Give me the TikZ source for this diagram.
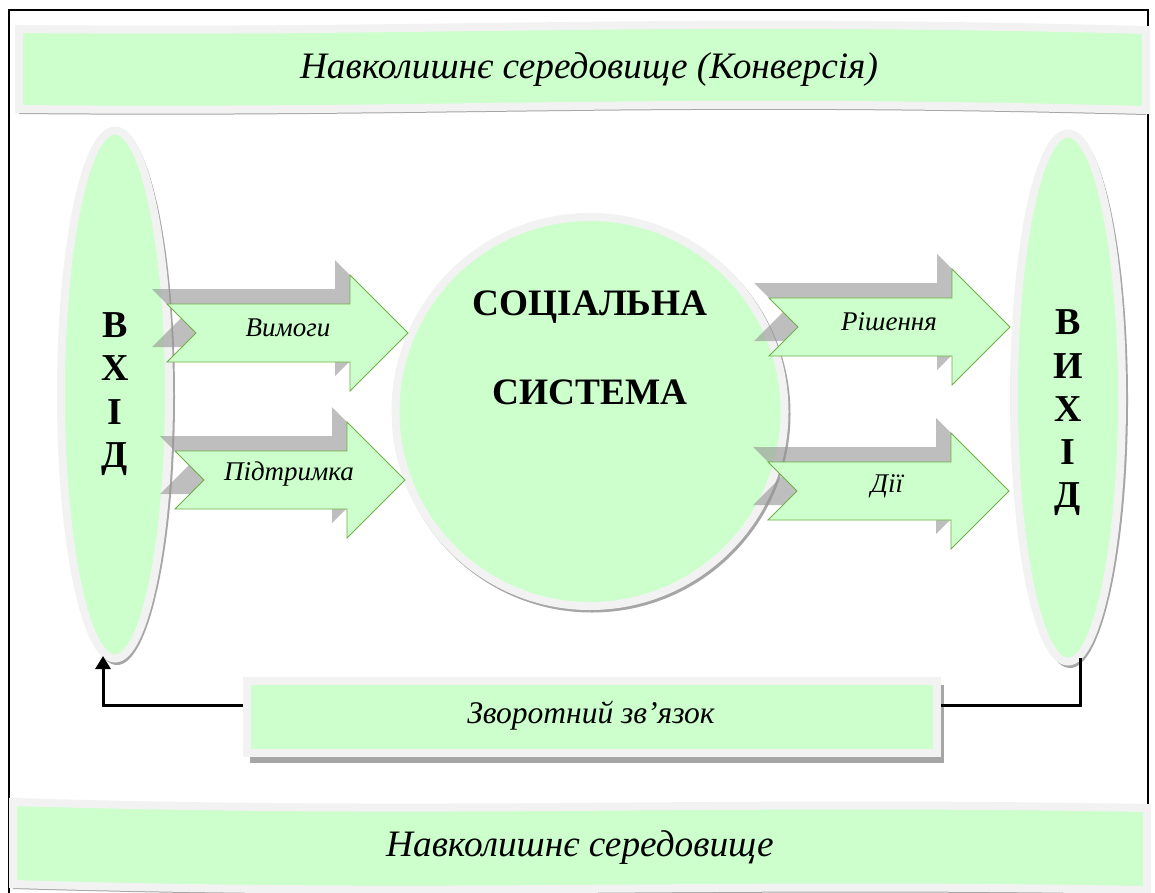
\documentclass[tikz,border=0pt]{standalone}
\usepackage{fontspec}
\setmainfont{Liberation Serif}
\usetikzlibrary{shapes.geometric,arrows.meta,calc}
\definecolor{fillg}{HTML}{CCFFCC}
\definecolor{ringc}{HTML}{F2F2F2}
\definecolor{shadc}{HTML}{A6A6A6}
\definecolor{arrowline}{HTML}{70AD47}
\newcommand\flowarrow[4]{%
  \path[#4] (#1,#2-29) -- (#1+#3-58,#2-29) -- (#1+#3-58,#2-58) -- (#1+#3,#2)
    -- (#1+#3-58,#2+58) -- (#1+#3-58,#2+29) -- (#1,#2+29) -- (#1+29,#2) -- cycle;}
\tikzset{
  ringshape/.style={draw=ringc, line width=8pt, fill=fillg},
  greenarrow/.style={draw=arrowline, line width=0.8pt, fill=fillg, line join=miter},
  shadowarrow/.style={fill=black!42, fill opacity=0.6},
  bigletters/.style={font=\fontsize{38}{43.3}\selectfont\bfseries, align=center, inner sep=0pt},
  arrowlabel/.style={font=\fontsize{27}{30}\selectfont\itshape, inner sep=0pt},
  fbtext/.style={font=\fontsize{31.5}{34}\selectfont\itshape, inner sep=0pt},
  bannertext/.style={font=\fontsize{37.3}{42}\selectfont\itshape, inner sep=0pt},
  systext/.style={font=\fontsize{37.3}{42}\selectfont\bfseries, inner sep=0pt},
  feedback/.style={line width=3pt, line cap=butt, line join=miter}
}
\begin{document}
\begin{tikzpicture}[x=1pt, y=-1pt]
\useasboundingbox (0,0) rectangle (1155,892);
\fill[white] (0,0) rectangle (1155,892);
% frame
\draw[line width=2pt] (9,910) -- (9,10) -- (1148,10) -- (1148,910);

% top banner
\fill[shadc] (19,33) .. controls (450,37) and (650,21) .. (1146,34) -- (1146,115)
   .. controls (650,102) and (450,118) .. (19,114) -- cycle;
\path[ringshape] (19,29) .. controls (450,33) and (650,17) .. (1146,30) -- (1146,110)
   .. controls (650,97) and (450,113) .. (19,109) -- cycle;
\node[bannertext] (topt) at (589,70) {Навколишнє середовище (Конверсія)};

% bottom banner
\fill[shadc] (13,806) .. controls (450,819) and (700,804) .. (1147,812) -- (1147,895)
   .. controls (700,887) and (450,902) .. (13,889) -- cycle;
\path[ringshape] (13,802) .. controls (450,815) and (700,800) .. (1147,808) -- (1147,890)
   .. controls (700,882) and (450,897) .. (13,884) -- cycle;
\node[bannertext] (bott) at (580,848) {Навколишнє середовище};

% input ellipse
\fill[shadc] (117,397) ellipse [x radius=58pt, y radius=268pt];
\node[ellipse, ringshape, minimum width=108pt, minimum height=528pt, inner sep=0pt] (inL) at (115,394.5) {};
\node[bigletters] (inT) at (115,394) {В\\Х\\І\\Д};

% output ellipse
\fill[shadc] (1070,400) ellipse [x radius=58pt, y radius=268pt];
\node[ellipse, ringshape, minimum width=108pt, minimum height=528pt, inner sep=0pt] (outR) at (1068,397.5) {};
\node[bigletters] (outT) at (1068,413) {В\\И\\Х\\І\\Д};

% system circle
\fill[shadc] (592,414) circle [radius=198.5pt];
\node[circle, ringshape, minimum size=389pt, inner sep=0pt] (sys) at (590,411.5) {};
\node[systext] (sys1) at (590,307) {СОЦІАЛЬНА};
\node[systext] (sys2) at (590,392) {СИСТЕМА};

% arrows: shadows
\flowarrow{152}{318}{241}{shadowarrow}
\flowarrow{160}{465}{230}{shadowarrow}
\flowarrow{754}{312}{241}{shadowarrow}
\flowarrow{753}{476}{241}{shadowarrow}
% arrows
\flowarrow{167}{333}{241}{greenarrow}
\flowarrow{175}{480}{230}{greenarrow}
\flowarrow{769}{327}{241}{greenarrow}
\flowarrow{768}{491}{241}{greenarrow}
\node[arrowlabel] (a1) at (288,328) {Вимоги};
\node[arrowlabel] (a2) at (289,474) {Підтримка};
\node[arrowlabel] (a3) at (889,322) {Рішення};
\node[arrowlabel] (a4) at (887,486) {Дії};

% feedback box
\fill[shadc] (250,685) rectangle (944,763);
\node[rectangle, ringshape, minimum width=690pt, minimum height=72pt, inner sep=0pt] (fb) at (592,717) {};
\node[fbtext] (fbt) at (591,716) {Зворотний зв’язок};

% feedback connectors
\coordinate (fbL) at ([yshift=12pt]fb.west);
\coordinate (fbR) at ([yshift=12pt]fb.east);
\coordinate (inBot) at (103,656);
\coordinate (outBot) at (1080,658);
\draw[feedback, -{Triangle[length=13pt,width=15pt]}] (fbL) -| (inBot);
\draw[feedback] (fbR) -| (outBot);
\end{tikzpicture}
\end{document}
